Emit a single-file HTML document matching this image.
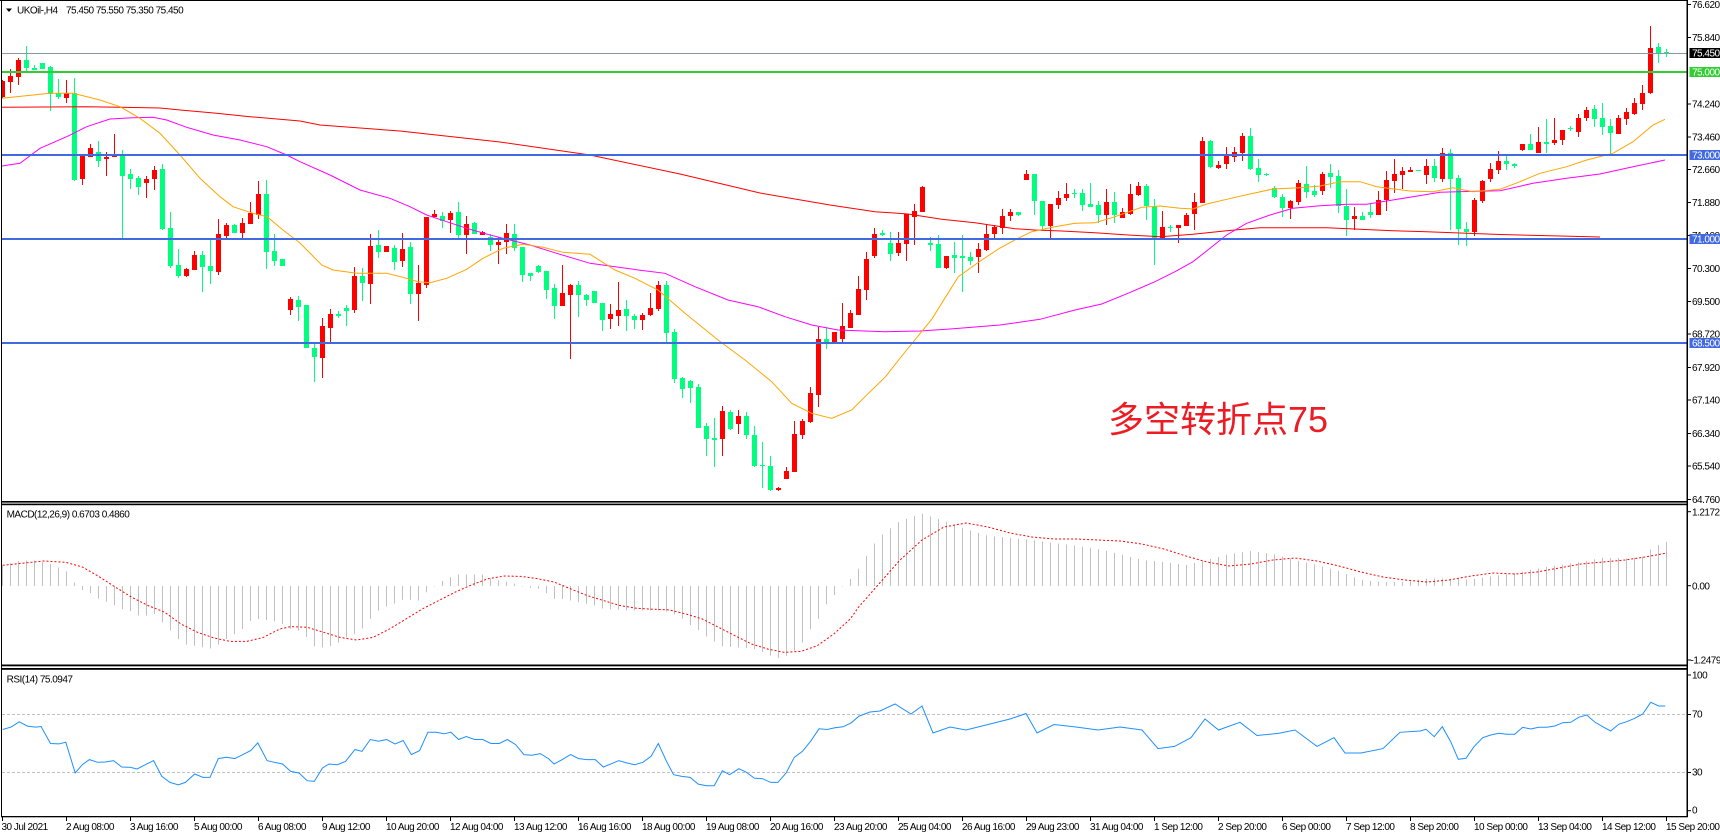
<!DOCTYPE html>
<html><head><meta charset="utf-8">
<style>
html,body{margin:0;padding:0;background:#fff;overflow:hidden;}
svg{display:block;}
text{font-family:"Liberation Sans",Arial,sans-serif;font-size:10px;letter-spacing:-0.5px;fill:#000;}
</style></head><body>
<svg id="c" width="1720" height="836" viewBox="0 0 1720 836" xmlns="http://www.w3.org/2000/svg">
<rect width="1720" height="836" fill="#fff"/>
<g id="dyn"></g>
<!-- level lines -->
<rect x="2" y="53" width="1685" height="1" fill="#8a98a6"/>
<rect x="2" y="71" width="1685" height="2" fill="#32cd32"/>
<rect x="2" y="154" width="1685" height="2" fill="#4169e1"/>
<rect x="2" y="238" width="1685" height="2" fill="#4169e1"/>
<rect x="2" y="342" width="1685" height="2" fill="#4169e1"/>
<!-- RSI levels -->
<line x1="2" y1="714.5" x2="1687" y2="714.5" stroke="#c0c0c0" stroke-width="1" stroke-dasharray="3,2"/>
<line x1="2" y1="772.5" x2="1687" y2="772.5" stroke="#c0c0c0" stroke-width="1" stroke-dasharray="3,2"/>
<g id="dyn2"></g>
<!-- frames -->
<rect x="0" y="0" width="1688" height="1" fill="#000"/>
<rect x="1" y="0" width="1" height="817" fill="#000"/>
<rect x="1686.5" y="0" width="1.5" height="817" fill="#000"/>
<rect x="1" y="501" width="1687" height="1.6" fill="#000"/>
<rect x="1" y="503.6" width="1687" height="1.6" fill="#000"/>
<rect x="1" y="664.5" width="1687" height="1.8" fill="#000"/>
<rect x="1" y="668" width="1687" height="1.8" fill="#000"/>
<rect x="1" y="816" width="1687" height="1.3" fill="#000"/>
<g id="ticks"></g>
<!-- title -->
<polygon points="6,8.5 12,8.5 9,12" fill="#000"/>
<text x="17" y="13.7">UKOil-,H4</text>
<text x="66" y="13.7">75.450 75.550 75.350 75.450</text>
<text x="6.6" y="517.5">MACD(12,26,9) 0.6703 0.4860</text>
<text x="6.6" y="682.5">RSI(14) 75.0947</text>
<!-- big annotation -->
<text x="1108" y="432" style="font-family:'Liberation Sans','Noto Sans CJK SC',sans-serif;font-size:36px;letter-spacing:0;fill:#ec1c24">多空转折点75</text>
<!-- price axis labels -->
<text x="1692" y="8">76.620</text>
<text x="1692" y="41">75.840</text>
<text x="1692" y="107.5">74.240</text>
<text x="1692" y="140.5">73.460</text>
<text x="1692" y="173">72.660</text>
<text x="1692" y="206">71.880</text>
<text x="1692" y="239">71.100</text>
<text x="1692" y="272">70.300</text>
<text x="1692" y="305">69.500</text>
<text x="1692" y="337.5">68.720</text>
<text x="1692" y="371">67.920</text>
<text x="1692" y="403.5">67.140</text>
<text x="1692" y="437">66.340</text>
<text x="1692" y="469.5">65.540</text>
<text x="1692" y="503">64.760</text>
<rect x="1689.5" y="48" width="31" height="10" fill="#000"/>
<text x="1692" y="56.7" style="fill:#fff">75.450</text>
<rect x="1689.5" y="67" width="31" height="10" fill="#32cd32"/>
<text x="1692" y="75.7" style="fill:#fff">75.000</text>
<rect x="1689.5" y="150" width="31" height="10" fill="#4169e1"/>
<text x="1692" y="158.7" style="fill:#fff">73.000</text>
<rect x="1689.5" y="234" width="31" height="10" fill="#4169e1"/>
<text x="1692" y="242.7" style="fill:#fff">71.000</text>
<rect x="1689.5" y="338" width="31" height="10" fill="#4169e1"/>
<text x="1692" y="346.7" style="fill:#fff">68.500</text>
<!-- MACD axis -->
<text x="1692" y="515.3">1.2172</text>
<text x="1692" y="589.5">0.00</text>
<text x="1690.5" y="663.5">-1.2479</text>
<!-- RSI axis -->
<text x="1692" y="678.5">100</text>
<text x="1692" y="717.5">70</text>
<text x="1692" y="775.7">30</text>
<text x="1692" y="813.5">0</text>
<!-- time axis -->
<text x="1.5" y="830">30 Jul 2021</text>
<text x="66" y="830">2 Aug 08:00</text>
<text x="130" y="830">3 Aug 16:00</text>
<text x="194" y="830">5 Aug 00:00</text>
<text x="258" y="830">6 Aug 08:00</text>
<text x="322" y="830">9 Aug 12:00</text>
<text x="386" y="830">10 Aug 20:00</text>
<text x="450" y="830">12 Aug 04:00</text>
<text x="514" y="830">13 Aug 12:00</text>
<text x="578" y="830">16 Aug 16:00</text>
<text x="642" y="830">18 Aug 00:00</text>
<text x="706" y="830">19 Aug 08:00</text>
<text x="770" y="830">20 Aug 16:00</text>
<text x="834" y="830">23 Aug 20:00</text>
<text x="898" y="830">25 Aug 04:00</text>
<text x="962" y="830">26 Aug 16:00</text>
<text x="1026" y="830">29 Aug 23:00</text>
<text x="1090" y="830">31 Aug 04:00</text>
<text x="1154" y="830">1 Sep 12:00</text>
<text x="1218" y="830">2 Sep 20:00</text>
<text x="1282" y="830">6 Sep 00:00</text>
<text x="1346" y="830">7 Sep 12:00</text>
<text x="1410" y="830">8 Sep 20:00</text>
<text x="1474" y="830">10 Sep 00:00</text>
<text x="1538" y="830">13 Sep 04:00</text>
<text x="1602" y="830">14 Sep 12:00</text>
<text x="1666" y="830">15 Sep 20:00</text>
</svg>
<script>
(function(){
var D="97,81,80,98|82,76,69,93|77,60,58,85|60,68,46,72|68,70,65,70|63,69,63,69|67,94,66,111|93,97,79,99|98,93,80,103|93,180,78,181|179,156,155,185|157,148,144,157|152,161,141,167|159,157,152,176|157,155,134,157|155,176,150,238|174,179,169,189|178,187,176,195|183,179,176,198|179,170,166,190|169,229,164,230|228,266,212,268|265,276,249,278|276,269,268,277|270,255,251,270|255,267,251,292|266,271,239,284|272,234,219,275|236,225,223,238|225,233,224,233|233,223,218,238|224,213,202,224|215,194,181,219|194,252,180,269|251,261,234,266|259,266,259,266|310,299,297,315|300,307,296,321|305,348,305,348|348,357,344,382|358,326,318,378|328,314,309,342|314,316,311,318|308,311,305,326|310,276,267,313|276,283,268,301|284,246,234,304|245,252,230,258|252,246,246,252|248,262,245,270|261,249,233,267|247,294,242,304|294,283,265,321|285,217,217,288|217,214,210,218|216,221,212,228|220,213,211,233|212,235,202,238|235,224,216,254|223,234,222,234|235,232,231,235|237,245,234,251|245,242,237,264|242,233,224,254|234,248,224,251|247,275,247,282|273,276,273,281|266,272,265,273|271,290,271,299|288,306,284,319|306,293,265,306|295,285,284,359|285,295,281,317|295,300,294,306|291,303,291,303|303,320,303,331|319,314,304,329|316,310,282,326|309,316,300,331|316,320,314,329|320,315,313,330|315,308,293,316|309,285,281,311|285,333,281,342|332,379,329,383|378,389,377,398|381,388,380,403|387,428,384,428|426,439,423,456|438,440,418,467|439,411,406,456|412,429,410,430|424,416,410,434|416,435,412,439|435,466,426,467|465,466,442,488|466,490,456,491|490,488,487,491|479,471,467,479|472,434,421,472|435,421,419,439|422,393,387,423|395,339,327,407|339,343,327,349|342,332,332,342|339,326,303,342|328,313,310,328|315,289,276,315|290,259,252,300|256,234,228,258|233,235,230,236|243,254,232,261|253,243,232,256|244,214,214,261|217,211,204,245|212,187,186,212|243,245,237,251|244,268,235,268|268,256,256,269|255,258,242,273|256,258,235,292|257,261,252,265|257,249,243,273|250,234,225,251|234,227,225,240|228,216,209,234|216,212,209,221|212,215,212,216|180,174,170,180|174,201,174,215|201,226,201,230|226,204,204,238|205,198,191,209|198,194,183,201|193,194,189,198|193,205,189,211|204,207,183,207|205,215,201,223|215,202,189,225|202,215,192,223|218,212,208,218|214,194,184,215|195,186,182,196|186,206,184,220|206,238,199,265|238,227,211,238|227,228,225,232|228,225,225,243|226,215,213,226|214,202,193,230|203,141,137,203|141,167,140,168|168,165,161,169|164,156,147,169|157,152,147,162|153,136,133,161|136,169,128,170|168,175,159,182|174,175,173,176|188,197,186,198|197,208,194,217|208,201,200,219|202,183,180,205|184,192,166,198|191,195,185,197|191,174,172,195|173,177,164,188|176,206,170,213|206,220,189,236|219,216,207,230|216,220,212,220|212,215,203,218|215,200,191,215|200,180,171,211|181,174,159,193|175,171,167,189|172,170,167,172|170,171,170,171|175,166,159,184|166,178,159,182|179,153,148,182|153,179,149,230|178,229,175,245|229,232,222,246|232,200,198,236|201,181,180,203|179,169,163,182|170,161,151,174|161,164,155,170|164,166,163,168|150,144,144,151|144,150,134,150|153,142,127,153|142,144,119,153|143,140,118,145|140,130,130,145|128,129,126,131|132,118,114,137|118,110,107,121|109,119,105,127|118,127,103,135|126,133,119,154|134,118,115,134|119,112,108,125|114,103,98,115|104,93,85,110|93,48,26,94|47,53,43,63|52,53,49,57";
var C=D.split("|").map(function(r){return r.split(",").map(Number);});
var s="";
for(var i=0;i<C.length;i++){
 var o=C[i][0],c=C[i][1],h=C[i][2],l=C[i][3];
 var t=Math.min(o,c),b=Math.max(o,c);
 h=Math.min(h,t);l=Math.max(l,b);
 var col=(c<o)?"#ff0000":"#00ff7f";
 var x=8*i;
 s+='<rect x="'+(x+2)+'" y="'+h+'" width="1" height="'+Math.max(1,l-h)+'" fill="'+col+'"/>';
 s+='<rect x="'+Math.max(2,x)+'" y="'+t+'" width="'+(x<2?3:5)+'" height="'+Math.max(1,b-t)+'" fill="'+col+'"/>';
}
function pl(p,col,extra){
 return '<polyline fill="none" stroke="'+col+'" stroke-width="1" '+(extra||'')+' points="'+p.map(function(q){return q[0]+','+q[1];}).join(' ')+'"/>';
}
var OR=[[2,98.3],[33,95],[50,93.3],[73,93.3],[100,100],[120,106.7],[140,118.3],[160,133.3],[180,155],[200,178.3],[220,196.7],[233,206.7],[253,213.3],[267,216.7],[283,230],[300,243],[321.7,265],[333,270],[356.7,273.3],[386.7,273.3],[403,277.3],[418,281.7],[430,282.7],[446.7,278.3],[466.7,269.3],[483,258.3],[503,248.3],[523,244.3],[543,247.3],[563,252.3],[590,254.3],[615,270],[635,278.3],[658,290],[685,313.3],[718,340],[745,360],[771.7,381.7],[791.7,403.3],[811.7,413.3],[831.7,418.3],[851.7,410],[865,396.7],[885,377.3],[905,352],[931.7,319.3],[958.3,276.7],[981.7,260],[1000,248],[1018,238.3],[1031.7,231.7],[1055,226.7],[1075,223.3],[1095,222.7],[1115,216.7],[1141.7,207.3],[1160,206],[1180,208.3],[1193,209],[1206.7,204],[1226.7,199.3],[1250,194],[1273,189],[1300,187.7],[1320,186],[1340,181.7],[1360,181.7],[1376.7,186.7],[1410,191],[1433,191.7],[1453,187.7],[1473,191.7],[1500,189.3],[1520,181.7],[1540,173.3],[1566.7,166.7],[1586.7,160],[1613,153.3],[1633,141.7],[1653,125],[1665,119.3]];
var MG=[[2,166],[20,163.3],[40,148.3],[66.7,136.7],[86.7,126.7],[110,119],[133,117.7],[153,117.3],[166.7,120],[186.7,127.3],[213,135],[240,140],[266.7,146.7],[286.7,155],[300,161.7],[330,175],[360,190],[390,198.3],[410,206.7],[426.7,215],[446.7,221.7],[466.7,228.3],[490,235],[510,240],[530,245],[556.7,253.3],[590,263.3],[638.3,270],[665,273.3],[695,286.7],[728,300],[758,306.7],[785,316.7],[811.7,325],[838,330],[885,331.7],[920,331],[950,329],[1000,325],[1040,319.3],[1075,310],[1101.7,304],[1128,293.3],[1155,281.7],[1175,271.7],[1193,261.7],[1226.7,235],[1246.7,223.3],[1270,215],[1293,208.3],[1320,205.7],[1346.7,204.3],[1366.7,204.3],[1386.7,201],[1413,196.7],[1440,192.3],[1466.7,191.5],[1500,190.7],[1533,183.3],[1566.7,178.3],[1600,174],[1633,166.7],[1665,160]];
var RD=[[2,107.3],[86.7,106.7],[160,108],[183,110.3],[216.7,113.3],[250,116.7],[280,119.3],[300,121],[320,125],[400,131],[500,142],[590,155],[680,174],[760,193],[830,205],[875,211.7],[908,214],[941.7,219.3],[975,222.7],[1015,228.7],[1035,230],[1061.7,231],[1095,232.7],[1128.3,235],[1160,236.7],[1193,234.3],[1226.7,230.7],[1260,227.7],[1326.7,227.7],[1360,229.3],[1393,230.7],[1426.7,231.7],[1460,233],[1500,234.5],[1560,236],[1600,237]];
s+=pl(RD,"#ff0000");
s+=pl(MG,"#ff00ff");
s+=pl(OR,"#ffa500");
function interp(p,x){
 if(x<=p[0][0])return p[0][1];
 for(var k=1;k<p.length;k++){ if(x<=p[k][0]){var a=p[k-1],b=p[k];return a[1]+(b[1]-a[1])*(x-a[0])/(b[0]-a[0]);} }
 return p[p.length-1][1];
}
var H=[[2.7,565.3],[19,561],[33,560.3],[49.4,563.6],[65.8,570.4],[74,582],[82.3,589.8],[90.5,593],[98.7,598.8],[107,602],[115.2,605.5],[121.8,608.9],[130.6,611.2],[138.8,615.6],[147,615.6],[154.7,614],[162.4,622.3],[170.6,630.7],[178.3,639],[186.5,644.7],[194.7,645.7],[203,647.4],[210.6,648.4],[218.3,644.7],[226.5,639],[234.8,634],[242.5,629],[250.7,620.6],[257.8,619],[266.6,620],[274.3,621.3],[282.5,624],[290.7,629],[299,630.7],[307.2,637.4],[315.4,647.4],[323.6,647.4],[331.9,645.7],[339,642.4],[346.7,637.4],[354.9,634],[362,629],[370.3,619],[378.5,610.6],[386.7,606.5],[393.9,603.9],[402,599.8],[410.3,599.8],[418.5,600.5],[426.8,592],[435,586],[443.2,580.4],[451,577],[458.6,574.4],[482.7,574.4],[491,578.7],[499.2,580.4],[507.4,582],[515.6,583.7],[522.8,586.4],[531,587.8],[538.7,588.8],[546.4,593],[554,598.8],[562,598.8],[570.5,600.5],[578.7,602.2],[587,603.9],[595.2,605.5],[603.4,608.9],[619.9,609.9],[628,610.5],[661,610.5],[669.2,612.2],[677.5,615.6],[685.7,620.6],[691.2,625.6],[699.4,630.7],[707.6,637.4],[715.9,642.4],[723,646.7],[739.4,647.4],[755.3,649.1],[763.6,652.4],[771.3,655.8],[779,658.1],[786.6,655.8],[794.3,650.8],[802.5,642.4],[810.7,629],[818.4,619],[826.7,603.9],[834.9,594.5],[843.1,585.4],[850.8,578.7],[858.5,568.7],[878,538],[900,521],[922,513.5],[944,521],[966,529],[988,535.7],[1010,538],[1032,540],[1054,543],[1076,545.6],[1098,549],[1120,554],[1142,560],[1164,562],[1186,565],[1207,560],[1229,554],[1251,551],[1273,554],[1295,560],[1317,565],[1339,571],[1361,580],[1383,582],[1405,582],[1427,578.5],[1449,578.5],[1471,579.6],[1493,576],[1515,573],[1537,568.6],[1559,565],[1581,562],[1602.7,557.7],[1626.7,558.3],[1642.7,556.7],[1650.7,549.3],[1658.7,545],[1666.7,541.7]];
var s2="";
for(var i=0;i<C.length;i++){
 var x=8*i+2, y=interp(H,x+0.5), z=586;
 var t=Math.min(y,z), hh=Math.abs(y-z);
 if(hh<0.5)hh=0.5;
 s2+='<rect x="'+x+'" y="'+t.toFixed(1)+'" width="1" height="'+hh.toFixed(1)+'" fill="#c0c0c0"/>';
}
var SG=[[2.7,565.3],[43.9,561],[65.8,562.3],[82.3,567],[98.7,576.4],[115.2,587],[131.7,597.2],[148,605.5],[164.6,612.2],[181,624],[197.5,632.3],[214,638],[230.4,641.4],[246.8,641.4],[263.3,637.4],[279.8,629],[290.7,626.6],[307.2,627.3],[323.6,632.3],[340,637.4],[356.6,640],[373,637.4],[389.5,629],[406,619],[422.4,608.9],[438.8,600.5],[455.3,592.1],[471.8,584.8],[488.2,578.7],[504.7,576],[521.1,576.4],[537.6,578.7],[554,582],[570.5,588.8],[587,595.5],[603.4,600.5],[619.9,605.5],[636.3,608.2],[652.8,609.2],[669.2,609.9],[685.7,613.9],[702.1,618.9],[718.6,627.3],[735,635.7],[751.5,644],[768,649.1],[784.4,652.4],[800.9,651.4],[817.3,645.7],[833.8,634],[850.3,619],[858.5,607.2],[878,585],[900,560],[922,540],[944,527],[966,523],[988,527],[1010,533],[1032,537],[1054,539],[1076,539],[1098,540],[1120,541],[1142,544],[1164,549],[1186,556],[1207,562],[1229,566],[1251,564],[1273,560],[1295,558],[1317,561],[1339,566],[1361,572],[1383,577],[1405,580],[1427,582],[1449,580],[1471,576],[1493,573],[1515,574],[1537,572],[1559,568],[1581,564],[1603,562],[1625,560],[1645,557],[1667,553]];
s2+=pl(SG,"#ff0000",'stroke-dasharray="2,2"');
var RS=[[2.7,729.5],[11,727.1],[19.2,721.8],[27.4,726.1],[35.7,727.1],[41.1,726.5],[50.5,743.5],[59.2,743.9],[65.8,742.2],[75.2,773],[82.3,764.7],[89.4,759.6],[97.6,762.3],[105.3,762],[113.5,760.6],[121.8,767],[130,767.3],[137.1,769],[145.4,764.7],[153.6,760.6],[161.8,776.4],[170,782.4],[178.3,784.8],[185.4,782.4],[194.7,774],[203,777.4],[210,777.4],[218.3,758.6],[226.5,757.3],[234.8,758.6],[241.4,755.3],[250.7,750.6],[257.8,742.9],[267.1,760.6],[274.3,762.3],[282.5,764],[290.7,771.4],[299,773],[307.2,780.7],[314.3,781.4],[322.5,768],[329.1,764],[337.4,764.7],[345.6,761.3],[354.9,749.6],[362,751.3],[370.3,739.5],[378.5,741.2],[386.7,739.5],[395,743.9],[403.2,740.5],[411.4,754.6],[419.6,750.6],[427.9,732.2],[436.1,732.2],[444.3,733.8],[450.9,732.2],[458.6,739.5],[466.3,736.5],[474.5,739.5],[482.7,739.5],[491,743.5],[499.2,743.5],[507.4,739.5],[515.6,744.6],[523.9,754.6],[532.1,755.3],[540.3,753.6],[548.5,758.6],[554,764],[562.3,759.6],[570.5,754.6],[578.7,758.6],[587,759.6],[595.2,759.6],[603.4,767],[611.6,763.7],[618.8,760.6],[627,763],[634.7,764.7],[642.9,762.3],[651.1,756.3],[658.3,743.5],[666.5,761.3],[673.6,774.7],[681.9,776.4],[690.1,777.4],[698.3,784.1],[706.5,785.8],[714.2,785.8],[722.4,770.7],[729.6,774.7],[738.9,768.7],[746,772],[754.3,778.1],[762.5,778.7],[770.7,782.4],[777.9,782.4],[786.1,773],[794.3,757.3],[802.5,751.3],[810.7,741.2],[819,728.8],[827.2,729.5],[834.9,727.8],[843.1,726.8],[851.3,722.8],[859,716.1],[870,712],[880,711],[895,704],[911,714],[922,706],[933,733],[950,727],[966,730],[988,724.5],[1010,719],[1026,713.5],[1037,733],[1054,724.5],[1076,727],[1098,730],[1120,727],[1142,730],[1158,748.6],[1174.5,746.4],[1191,737.7],[1205,719],[1218.5,730],[1240,722.3],[1257,735.5],[1279,733.3],[1295,730],[1317,746.4],[1334,737.7],[1345,753],[1361,753],[1383,748.6],[1400,732.3],[1420,731],[1426,729.3],[1434.3,736.7],[1442.3,726.7],[1450.7,741.7],[1458.3,759.3],[1466,758.3],[1474,746.7],[1482.7,737.7],[1490.7,735],[1498.7,733.3],[1506.7,734.3],[1514.7,734.3],[1522.7,727.3],[1530.7,729],[1538.7,727.3],[1546.7,727.3],[1554.7,726],[1562.7,722.7],[1570.7,722.3],[1578.7,717.3],[1586.7,715],[1594.7,722],[1602.7,726.7],[1610.7,731],[1618.7,724.3],[1626.7,721.7],[1634.7,718.3],[1642.7,714],[1650.7,702.3],[1658.7,706],[1665.3,706]];
s2+=pl(RS,"#1e90ff");
var tk="";
for(var k=0;k<=26;k++){tk+='<rect x="'+(2+64*k)+'" y="817" width="1" height="4" fill="#000"/>';}
var ty=[4.5,37.5,104,137,169.5,202.5,235.5,268.5,301.5,334,367.5,400,433.5,466,499.5,511.7,585.7,660,675,714.5,772.5,810.7];
for(var k=0;k<ty.length;k++){tk+='<rect x="1687" y="'+(ty[k]-0.5)+'" width="4" height="1" fill="#000"/>';}
document.getElementById("dyn").innerHTML=s;
document.getElementById("dyn2").innerHTML=s2;
document.getElementById("ticks").innerHTML=tk;
})();
</script>
</body></html>
